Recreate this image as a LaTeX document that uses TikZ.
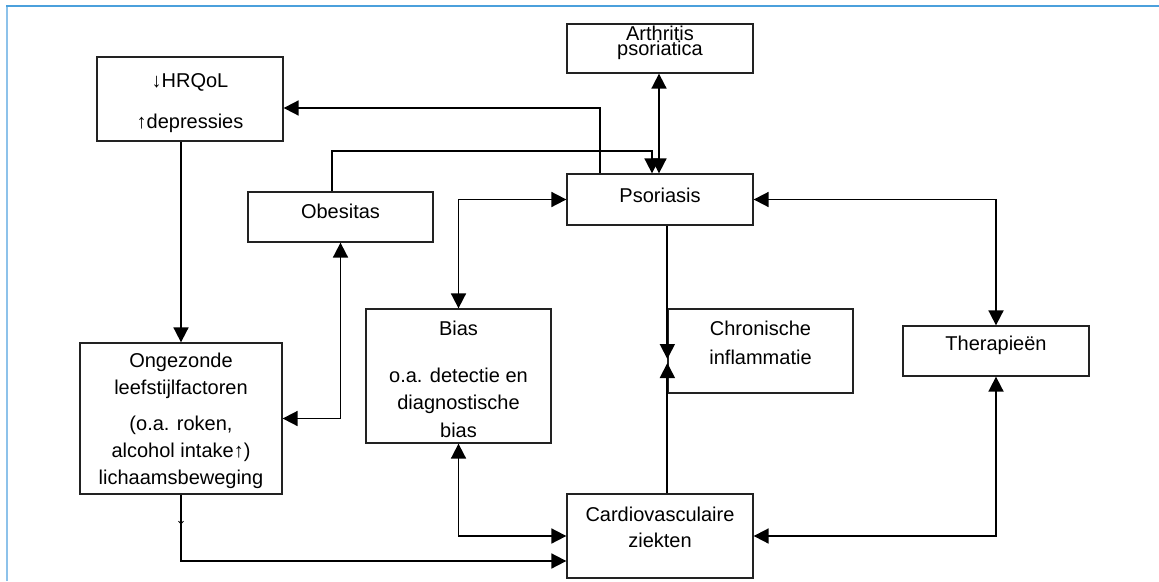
\documentclass[tikz,border=0pt]{standalone}
\usepackage{fontspec}
\setmainfont{Liberation Sans}
\usetikzlibrary{arrows.meta,decorations.markings}
\definecolor{frametop}{HTML}{4BA0DC}
\definecolor{frameleft}{HTML}{8DC2EA}
\definecolor{boxline}{HTML}{222222}
\begin{document}
\begin{tikzpicture}[x=1pt,y=-1pt,
  box/.style={draw=boxline,line width=1.3pt,inner sep=0pt},
  lbl/.style={align=center,inner sep=0pt,font=\fontsize{20}{27}\selectfont},
  conn/.style={draw=black,line width=1.8pt},
  tri/.tip={Triangle[length=15pt,width=15pt]},
  tiny/.tip={Straight Barb[length=3pt,width=5pt,line width=0.8pt]}
]
\useasboundingbox (0,0) rectangle (1159,581);
% frame
\draw[frameleft,line width=2pt] (7,581) -- (7,6);
\draw[frametop,line width=2pt] (6,6) -- (1159,6);

% boxes
\node[box,minimum width=186pt,minimum height=49pt] (art) at (660,48.5) {};
\node[box,minimum width=186pt,minimum height=84pt] (hrq) at (190,99) {};
\node[box,minimum width=185pt,minimum height=50pt] (obe) at (340.5,217) {};
\node[box,minimum width=186pt,minimum height=51pt] (pso) at (660,199.5) {};
\node[box,minimum width=185pt,minimum height=134pt] (bias) at (458.5,376) {};
\node[box,minimum width=185pt,minimum height=84pt] (chr) at (760.5,351) {};
\node[box,minimum width=186pt,minimum height=50pt] (ther) at (996,351) {};
\node[box,minimum width=202pt,minimum height=151pt] (ong) at (181,418.5) {};
\node[box,minimum width=186pt,minimum height=84pt] (cvd) at (660,536) {};

% labels
\node[lbl,font=\fontsize{20}{15}\selectfont] (artT) at (660,43) {Arthritis\\psoriatica};
\node[lbl,font=\fontsize{20}{41}\selectfont] (hrqT) at (190,103.5) {↓HRQoL\\↑depressies};
\node[lbl] (obeT) at (340.5,211) {Obesitas};
\node[lbl] (psoT) at (660,195) {Psoriasis};
\node[lbl,font=\fontsize{20}{27.5}\selectfont] (biasT) at (458.5,379) {Bias\\[19.5pt]o.a. detectie en\\diagnostische\\bias};
\node[lbl,font=\fontsize{20}{29}\selectfont] (chrT) at (760.5,342.5) {Chronische\\inflammatie};
\node[lbl] (therT) at (996,345) {Therapieën};
\node[lbl] (ongT) at (181,420.5) {Ongezonde\\leefstijlfactoren\\[9pt](o.a. roken,\\alcohol intake↑)\\lichaamsbeweging};
\node[lbl,font=\fontsize{20}{25.5}\selectfont] (cvdT) at (660,527.5) {Cardiovasculaire\\ziekten};

% connectors
\draw[conn,-tri] (ong.north |- hrq.south) -- (ong.north);
\draw[conn,-tri] ([xshift=-60pt]pso.north) |- ([yshift=-9pt]hrq.east);
\draw[conn,-tri] ([xshift=-8.5pt]obe.north) |- ([xshift=-8pt,yshift=22pt]pso.north) -- ([xshift=-8pt]pso.north);
\draw[conn,tri-tri] ([xshift=-1pt]art.south) -- ([xshift=-1pt]pso.north);
\draw[conn,tri-tri] (pso.west) -| (bias.north);
\draw[conn,tri-tri] (ong.east) -| (obe.south);
\draw[conn,-tri] (chr.west |- pso.south) -- ([yshift=-8pt]chr.west);
\draw[conn,-tri] (chr.west |- cvd.north) -- ([yshift=-12pt]chr.west);
\draw[conn,tri-tri] (pso.east) -| (ther.north);
\draw[conn,tri-tri] (ther.south) |- (cvd.east);
\draw[conn,tri-tri] (bias.south) |- (cvd.west);
\draw[conn,-tri,postaction={decorate,decoration={markings,mark=at position 30pt with {\arrow{tiny}}}}] (ong.south) |- ([yshift=-25pt]cvd.west);
\end{tikzpicture}
\end{document}
